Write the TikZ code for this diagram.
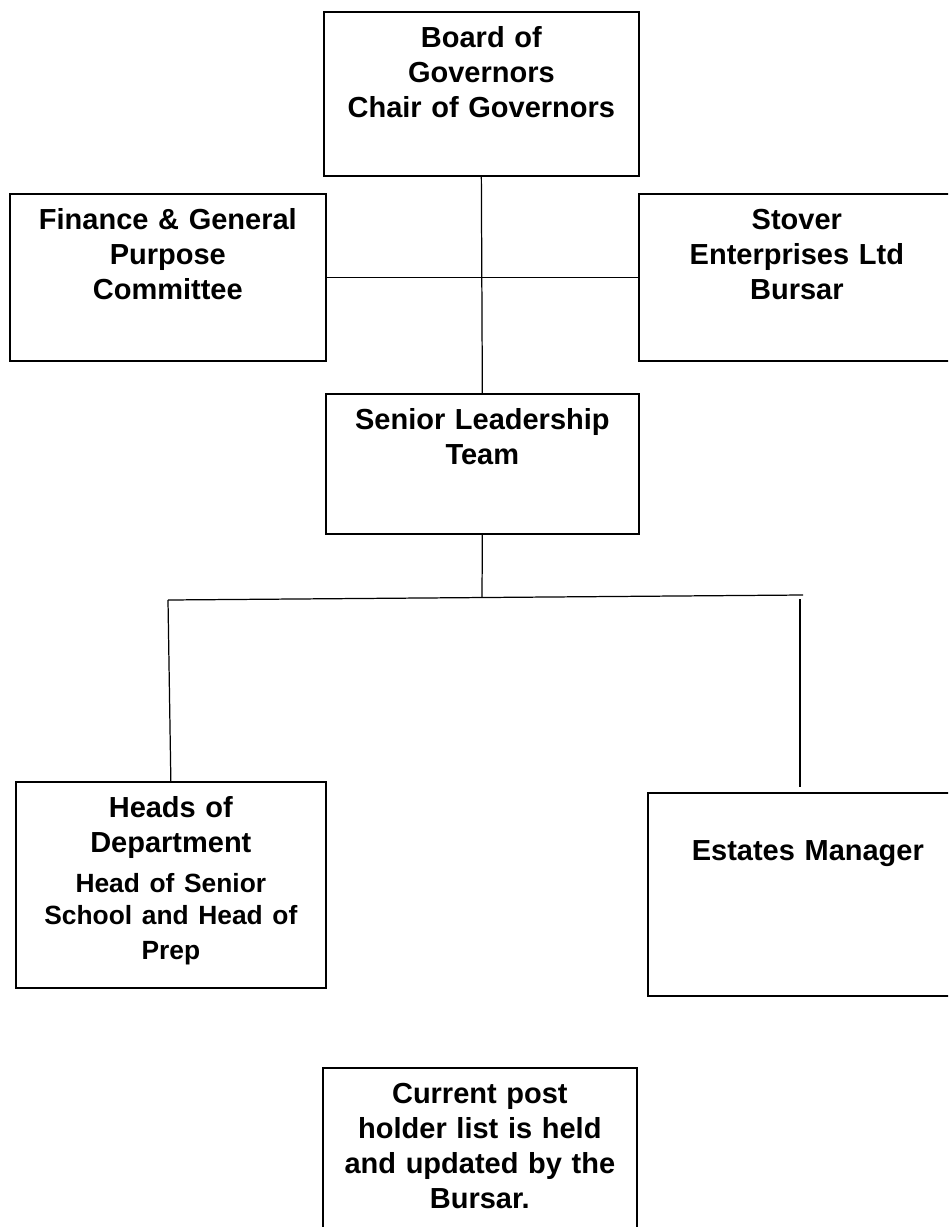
\documentclass[tikz,border=0pt]{standalone}
\usepackage{fontspec}
\setmainfont{Liberation Sans}
\usepackage{tikz}

\tikzset{
    orgbox/.style={draw, line width=1pt, inner sep=0pt, anchor=north west, align=center,
        font=\bfseries\fontsize{16.5}{19.8}\selectfont, text height=0.72cm},
    link/.style={line width=0.7pt},
}

\begin{document}
\begin{tikzpicture}[x=0.02cm, y=-0.02cm]

            \clip (0,0) rectangle (948,1227);

            \node[orgbox, text width=6.3cm, text depth=2.56cm] (board) at (323,11) {Board of\\Governors\\Chair of Governors};
            \node[orgbox, text width=6.32cm, text depth=2.62cm] (finance) at (9,193) {Finance \& General\\Purpose\\Committee};
            \node[orgbox, text width=6.32cm, text depth=2.62cm] (stover) at (638,193) {Stover\\Enterprises Ltd\\Bursar};
            \node[orgbox, text width=6.26cm, text depth=2.08cm] (slt) at (325,393) {Senior Leadership\\Team};
            \node[orgbox, text width=6.2cm, text depth=3.4cm] (heads) at (15,781) {Heads of\\Department\par\vspace{4pt}\fontsize{15}{18.5}\selectfont Head of Senior\\School and Head of\\Prep};
            \node[orgbox, text width=6.4cm, text height=1.36cm, text depth=2.7cm] (estates) at (647,792) {Estates Manager};
            \node[orgbox, text width=6.28cm, text depth=3.14cm] (current) at (322,1067) {Current post\\holder list is held\\and updated by the\\Bursar.};

            \coordinate (barL) at (168,600);
            \coordinate (barM) at (482,597);
            \coordinate (barR) at (803,595);
            \coordinate (estUp) at (800,599);
            \coordinate (estDown) at (800,787);

            \draw[link] (board.south) -- (slt.north);
            \draw[link] (finance.east) -- (stover.west);
            \draw[link] (slt.south) -- (barM);
            \draw[link] (barL) -- (barR);
            \draw[link] (barL) -- (heads.north);
            \draw[link] (estUp) -- (estDown);
        \end{tikzpicture}
\end{document}
